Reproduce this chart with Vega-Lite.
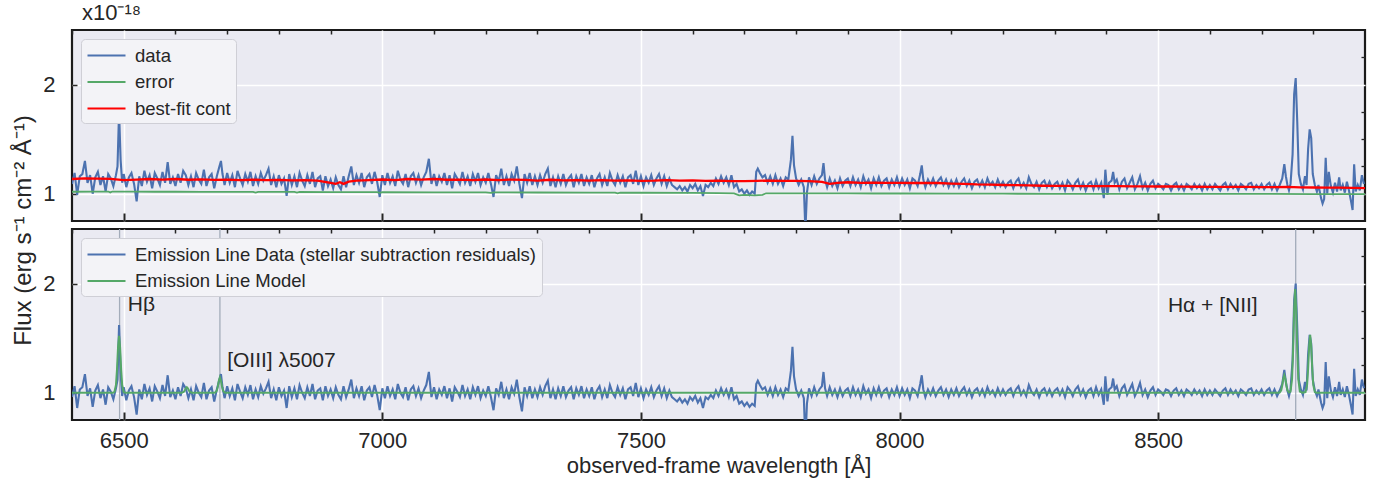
{
"$schema":"https://vega.github.io/schema/vega-lite/v6.json",
"padding":{"left":9,"top":1,"right":10,"bottom":4},
"background":"white",
"bounds":"flush",
"spacing":8,
"resolve":{"scale":{"color":"independent"}},
"config":{
"font":"Liberation Sans",
"view":{"fill":"#EAEAF2","stroke":"#1a1a1a","strokeWidth":2.2},
"axis":{"labelFont":"Liberation Sans","labelFontSize":22,"labelColor":"#262626","titleFont":"Liberation Sans","titleFontSize":22,"titleFontWeight":"normal","titleColor":"#262626","domain":false,"tickColor":"#262626","gridColor":"#FFFFFF","gridWidth":1.5},
"legend":{"labelFont":"Liberation Sans","labelFontSize":18.5,"labelColor":"#262626","labelLimit":700,"orient":"top-left","offset":9,"fillColor":"#F3F3F7","strokeColor":"#CFCFD6","cornerRadius":4,"padding":5,"rowPadding":5.5,"symbolType":"M-1.9,0H1.9","symbolSize":400,"symbolOffset":9,"symbolStrokeWidth":2.2,"labelOffset":17,"title":null}
},
"datasets":{
"spectrum":[
{"wl":6400,"flux":1.09,"resid":0.96},{"wl":6405,"flux":1.19,"resid":1.06},{"wl":6410,"flux":0.99,"resid":0.86},{"wl":6415,"flux":1.16,"resid":1.03},{"wl":6420,"flux":1.18,"resid":1.05},{"wl":6425,"flux":1.30,"resid":1.17},{"wl":6430,"flux":1.10,"resid":0.97},{"wl":6435,"flux":1.17,"resid":1.04},{"wl":6440,"flux":1.00,"resid":0.87},{"wl":6445,"flux":1.15,"resid":1.02},{"wl":6450,"flux":1.20,"resid":1.07},{"wl":6455,"flux":1.08,"resid":0.95},{"wl":6460,"flux":1.16,"resid":1.03},{"wl":6465,"flux":1.02,"resid":0.89},{"wl":6470,"flux":1.18,"resid":1.05},{"wl":6475,"flux":1.14,"resid":1.01},{"wl":6480,"flux":1.07,"resid":0.94},{"wl":6485,"flux":1.17,"resid":1.04},{"wl":6488,"flux":1.25,"resid":1.12},{"wl":6491,"flux":1.75,"resid":1.62},{"wl":6494,"flux":1.31,"resid":1.18},{"wl":6497,"flux":1.10,"resid":0.97},
{"wl":6500,"flux":1.18,"resid":1.05},{"wl":6505,"flux":1.06,"resid":0.93},{"wl":6510,"flux":1.15,"resid":1.02},{"wl":6515,"flux":1.19,"resid":1.06},{"wl":6520,"flux":1.09,"resid":0.96},{"wl":6525,"flux":0.93,"resid":0.80},{"wl":6530,"flux":1.16,"resid":1.03},{"wl":6535,"flux":1.07,"resid":0.94},{"wl":6540,"flux":1.21,"resid":1.08},{"wl":6545,"flux":1.11,"resid":0.98},{"wl":6550,"flux":1.17,"resid":1.04},{"wl":6555,"flux":1.05,"resid":0.92},{"wl":6560,"flux":1.19,"resid":1.06},{"wl":6565,"flux":1.14,"resid":1.01},{"wl":6570,"flux":1.08,"resid":0.95},{"wl":6575,"flux":1.20,"resid":1.07},{"wl":6580,"flux":1.10,"resid":0.97},{"wl":6585,"flux":1.29,"resid":1.16},{"wl":6590,"flux":1.09,"resid":0.96},{"wl":6595,"flux":1.15,"resid":1.02},
{"wl":6600,"flux":1.07,"resid":0.94},{"wl":6605,"flux":1.18,"resid":1.05},{"wl":6610,"flux":1.10,"resid":0.97},{"wl":6615,"flux":1.21,"resid":1.08},{"wl":6620,"flux":1.17,"resid":1.04},{"wl":6625,"flux":1.08,"resid":0.95},{"wl":6630,"flux":1.16,"resid":1.03},{"wl":6635,"flux":1.06,"resid":0.93},{"wl":6640,"flux":1.19,"resid":1.06},{"wl":6645,"flux":1.13,"resid":1.00},{"wl":6650,"flux":1.09,"resid":0.96},{"wl":6655,"flux":1.22,"resid":1.09},{"wl":6660,"flux":1.07,"resid":0.94},{"wl":6665,"flux":1.15,"resid":1.02},{"wl":6670,"flux":1.18,"resid":1.05},{"wl":6675,"flux":1.05,"resid":0.92},{"wl":6680,"flux":1.16,"resid":1.03},{"wl":6685,"flux":1.25,"resid":1.12},{"wl":6688,"flux":1.30,"resid":1.17},{"wl":6691,"flux":1.18,"resid":1.05},{"wl":6695,"flux":1.08,"resid":0.95},
{"wl":6700,"flux":1.19,"resid":1.06},{"wl":6705,"flux":1.10,"resid":0.97},{"wl":6710,"flux":1.17,"resid":1.04},{"wl":6715,"flux":1.06,"resid":0.93},{"wl":6720,"flux":1.21,"resid":1.08},{"wl":6725,"flux":1.14,"resid":1.01},{"wl":6730,"flux":1.08,"resid":0.95},{"wl":6735,"flux":1.18,"resid":1.05},{"wl":6740,"flux":1.11,"resid":0.98},{"wl":6745,"flux":1.20,"resid":1.07},{"wl":6750,"flux":1.07,"resid":0.94},{"wl":6755,"flux":1.16,"resid":1.03},{"wl":6760,"flux":1.09,"resid":0.96},{"wl":6765,"flux":1.19,"resid":1.06},{"wl":6770,"flux":1.12,"resid":0.99},{"wl":6775,"flux":1.17,"resid":1.04},{"wl":6780,"flux":1.23,"resid":1.10},{"wl":6785,"flux":1.08,"resid":0.95},{"wl":6790,"flux":1.16,"resid":1.03},{"wl":6795,"flux":1.06,"resid":0.93},
{"wl":6800,"flux":1.17,"resid":1.05},{"wl":6805,"flux":1.09,"resid":0.97},{"wl":6810,"flux":1.14,"resid":1.02},{"wl":6815,"flux":0.98,"resid":0.86},{"wl":6820,"flux":1.18,"resid":1.06},{"wl":6825,"flux":1.08,"resid":0.96},{"wl":6830,"flux":1.16,"resid":1.04},{"wl":6835,"flux":1.06,"resid":0.94},{"wl":6840,"flux":1.19,"resid":1.07},{"wl":6845,"flux":1.12,"resid":1.00},{"wl":6850,"flux":1.07,"resid":0.95},{"wl":6855,"flux":1.17,"resid":1.05},{"wl":6860,"flux":1.09,"resid":0.97},{"wl":6865,"flux":1.20,"resid":1.08},{"wl":6870,"flux":1.06,"resid":0.94},{"wl":6875,"flux":1.14,"resid":1.02},{"wl":6880,"flux":1.16,"resid":1.04},{"wl":6885,"flux":1.03,"resid":0.93},{"wl":6890,"flux":1.16,"resid":1.06},{"wl":6895,"flux":1.07,"resid":0.97},
{"wl":6900,"flux":1.13,"resid":1.03},{"wl":6905,"flux":1.05,"resid":0.95},{"wl":6910,"flux":1.15,"resid":1.05},{"wl":6915,"flux":1.08,"resid":0.98},{"wl":6920,"flux":1.04,"resid":0.94},{"wl":6925,"flux":1.16,"resid":1.06},{"wl":6930,"flux":1.06,"resid":0.96},{"wl":6935,"flux":1.16,"resid":1.03},{"wl":6940,"flux":1.25,"resid":1.12},{"wl":6945,"flux":1.08,"resid":0.95},{"wl":6950,"flux":1.17,"resid":1.04},{"wl":6955,"flux":1.10,"resid":0.97},{"wl":6960,"flux":1.19,"resid":1.06},{"wl":6965,"flux":1.06,"resid":0.93},{"wl":6970,"flux":1.15,"resid":1.02},{"wl":6975,"flux":1.18,"resid":1.05},{"wl":6980,"flux":1.09,"resid":0.96},{"wl":6985,"flux":1.20,"resid":1.07},{"wl":6990,"flux":1.11,"resid":0.98},{"wl":6995,"flux":0.97,"resid":0.84},
{"wl":7000,"flux":1.17,"resid":1.04},{"wl":7005,"flux":1.08,"resid":0.95},{"wl":7010,"flux":1.19,"resid":1.06},{"wl":7015,"flux":1.10,"resid":0.97},{"wl":7020,"flux":1.16,"resid":1.03},{"wl":7025,"flux":1.07,"resid":0.94},{"wl":7030,"flux":1.21,"resid":1.08},{"wl":7035,"flux":1.13,"resid":1.00},{"wl":7040,"flux":1.09,"resid":0.96},{"wl":7045,"flux":1.18,"resid":1.05},{"wl":7050,"flux":1.06,"resid":0.93},{"wl":7055,"flux":1.16,"resid":1.03},{"wl":7060,"flux":1.19,"resid":1.06},{"wl":7065,"flux":1.10,"resid":0.97},{"wl":7070,"flux":1.17,"resid":1.04},{"wl":7075,"flux":1.08,"resid":0.95},{"wl":7080,"flux":1.15,"resid":1.02},{"wl":7085,"flux":1.20,"resid":1.07},{"wl":7090,"flux":1.32,"resid":1.19},{"wl":7095,"flux":1.09,"resid":0.96},
{"wl":7100,"flux":1.18,"resid":1.05},{"wl":7105,"flux":1.07,"resid":0.94},{"wl":7110,"flux":1.16,"resid":1.03},{"wl":7115,"flux":1.11,"resid":0.98},{"wl":7120,"flux":1.19,"resid":1.06},{"wl":7125,"flux":1.08,"resid":0.95},{"wl":7130,"flux":1.17,"resid":1.04},{"wl":7135,"flux":1.05,"resid":0.92},{"wl":7140,"flux":1.18,"resid":1.05},{"wl":7145,"flux":1.14,"resid":1.01},{"wl":7150,"flux":1.09,"resid":0.96},{"wl":7155,"flux":1.20,"resid":1.07},{"wl":7160,"flux":1.10,"resid":0.97},{"wl":7165,"flux":1.16,"resid":1.03},{"wl":7170,"flux":1.07,"resid":0.94},{"wl":7175,"flux":1.18,"resid":1.05},{"wl":7180,"flux":1.11,"resid":0.98},{"wl":7185,"flux":1.19,"resid":1.06},{"wl":7190,"flux":1.08,"resid":0.95},{"wl":7195,"flux":1.15,"resid":1.02},
{"wl":7200,"flux":1.10,"resid":0.97},{"wl":7205,"flux":1.19,"resid":1.06},{"wl":7210,"flux":1.09,"resid":0.96},{"wl":7215,"flux":0.97,"resid":0.84},{"wl":7220,"flux":1.17,"resid":1.04},{"wl":7225,"flux":1.11,"resid":0.98},{"wl":7230,"flux":1.23,"resid":1.10},{"wl":7235,"flux":1.08,"resid":0.95},{"wl":7240,"flux":1.16,"resid":1.03},{"wl":7245,"flux":1.07,"resid":0.94},{"wl":7250,"flux":1.18,"resid":1.05},{"wl":7255,"flux":1.12,"resid":0.99},{"wl":7260,"flux":1.25,"resid":1.12},{"wl":7265,"flux":1.09,"resid":0.96},{"wl":7270,"flux":0.96,"resid":0.83},{"wl":7275,"flux":1.18,"resid":1.05},{"wl":7280,"flux":1.10,"resid":0.97},{"wl":7285,"flux":1.19,"resid":1.06},{"wl":7290,"flux":1.08,"resid":0.95},{"wl":7295,"flux":1.16,"resid":1.03},
{"wl":7300,"flux":1.08,"resid":0.96},{"wl":7305,"flux":1.17,"resid":1.05},{"wl":7310,"flux":1.10,"resid":0.98},{"wl":7315,"flux":1.18,"resid":1.06},{"wl":7320,"flux":1.23,"resid":1.11},{"wl":7325,"flux":1.07,"resid":0.95},{"wl":7330,"flux":1.15,"resid":1.03},{"wl":7335,"flux":1.06,"resid":0.94},{"wl":7340,"flux":1.16,"resid":1.04},{"wl":7345,"flux":1.09,"resid":0.97},{"wl":7350,"flux":1.18,"resid":1.06},{"wl":7355,"flux":1.08,"resid":0.96},{"wl":7360,"flux":1.14,"resid":1.02},{"wl":7365,"flux":1.17,"resid":1.05},{"wl":7370,"flux":1.06,"resid":0.94},{"wl":7375,"flux":1.16,"resid":1.04},{"wl":7380,"flux":1.10,"resid":0.98},{"wl":7385,"flux":1.18,"resid":1.06},{"wl":7390,"flux":1.07,"resid":0.95},{"wl":7395,"flux":1.15,"resid":1.03},
{"wl":7400,"flux":1.09,"resid":0.97},{"wl":7405,"flux":1.17,"resid":1.05},{"wl":7410,"flux":1.06,"resid":0.94},{"wl":7415,"flux":1.14,"resid":1.02},{"wl":7420,"flux":1.18,"resid":1.06},{"wl":7425,"flux":1.08,"resid":0.96},{"wl":7430,"flux":1.15,"resid":1.03},{"wl":7435,"flux":1.07,"resid":0.95},{"wl":7440,"flux":1.19,"resid":1.07},{"wl":7445,"flux":1.12,"resid":1.00},{"wl":7450,"flux":1.08,"resid":0.96},{"wl":7455,"flux":1.17,"resid":1.05},{"wl":7460,"flux":1.10,"resid":0.98},{"wl":7465,"flux":1.16,"resid":1.04},{"wl":7470,"flux":1.06,"resid":0.94},{"wl":7475,"flux":1.15,"resid":1.03},{"wl":7480,"flux":1.17,"resid":1.05},{"wl":7485,"flux":1.09,"resid":0.97},{"wl":7490,"flux":1.21,"resid":1.09},{"wl":7495,"flux":1.08,"resid":0.96},
{"wl":7500,"flux":1.16,"resid":1.04},{"wl":7505,"flux":1.07,"resid":0.95},{"wl":7510,"flux":1.15,"resid":1.03},{"wl":7515,"flux":1.10,"resid":0.98},{"wl":7520,"flux":1.17,"resid":1.05},{"wl":7525,"flux":1.08,"resid":0.96},{"wl":7530,"flux":1.14,"resid":1.02},{"wl":7535,"flux":1.18,"resid":1.06},{"wl":7540,"flux":1.09,"resid":0.97},{"wl":7545,"flux":1.16,"resid":1.04},{"wl":7550,"flux":1.07,"resid":0.95},{"wl":7555,"flux":1.14,"resid":1.02},{"wl":7560,"flux":1.08,"resid":0.96},{"wl":7565,"flux":1.06,"resid":0.94},{"wl":7570,"flux":1.04,"resid":0.92},{"wl":7575,"flux":1.07,"resid":0.95},{"wl":7580,"flux":1.03,"resid":0.91},{"wl":7585,"flux":1.06,"resid":0.94},{"wl":7590,"flux":1.02,"resid":0.90},{"wl":7595,"flux":1.08,"resid":0.96},
{"wl":7600,"flux":1.05,"resid":0.93},{"wl":7605,"flux":1.09,"resid":0.97},{"wl":7610,"flux":1.03,"resid":0.91},{"wl":7615,"flux":1.07,"resid":0.95},{"wl":7620,"flux":0.98,"resid":0.86},{"wl":7625,"flux":1.08,"resid":0.96},{"wl":7630,"flux":1.06,"resid":0.94},{"wl":7635,"flux":1.10,"resid":0.98},{"wl":7640,"flux":1.07,"resid":0.95},{"wl":7645,"flux":1.14,"resid":1.02},{"wl":7650,"flux":1.09,"resid":0.97},{"wl":7655,"flux":1.16,"resid":1.04},{"wl":7660,"flux":1.10,"resid":0.98},{"wl":7665,"flux":1.15,"resid":1.03},{"wl":7670,"flux":1.08,"resid":0.96},{"wl":7675,"flux":1.17,"resid":1.05},{"wl":7680,"flux":1.06,"resid":0.94},{"wl":7685,"flux":1.09,"resid":0.97},{"wl":7690,"flux":1.02,"resid":0.90},{"wl":7695,"flux":1.04,"resid":0.92},
{"wl":7700,"flux":1.00,"resid":0.88},{"wl":7705,"flux":1.03,"resid":0.91},{"wl":7710,"flux":0.99,"resid":0.87},{"wl":7715,"flux":1.02,"resid":0.90},{"wl":7720,"flux":1.00,"resid":0.88},{"wl":7723,"flux":1.20,"resid":1.08},{"wl":7726,"flux":1.23,"resid":1.11},{"wl":7730,"flux":1.19,"resid":1.07},{"wl":7735,"flux":1.15,"resid":1.03},{"wl":7740,"flux":1.17,"resid":1.05},{"wl":7745,"flux":1.10,"resid":0.98},{"wl":7750,"flux":1.16,"resid":1.04},{"wl":7755,"flux":1.09,"resid":0.97},{"wl":7760,"flux":1.17,"resid":1.05},{"wl":7765,"flux":1.09,"resid":0.98},{"wl":7770,"flux":1.14,"resid":1.03},{"wl":7775,"flux":1.07,"resid":0.96},{"wl":7780,"flux":1.15,"resid":1.04},{"wl":7785,"flux":1.13,"resid":1.02},{"wl":7790,"flux":1.31,"resid":1.20},{"wl":7793,"flux":1.53,"resid":1.42},{"wl":7796,"flux":1.26,"resid":1.15},
{"wl":7800,"flux":1.14,"resid":1.03},{"wl":7805,"flux":1.08,"resid":0.97},{"wl":7810,"flux":1.13,"resid":1.02},{"wl":7815,"flux":1.06,"resid":0.95},{"wl":7818,"flux":0.66,"resid":0.55},{"wl":7821,"flux":1.01,"resid":0.90},{"wl":7825,"flux":1.15,"resid":1.04},{"wl":7830,"flux":1.08,"resid":0.97},{"wl":7835,"flux":1.16,"resid":1.05},{"wl":7840,"flux":1.09,"resid":0.98},{"wl":7845,"flux":1.14,"resid":1.03},{"wl":7850,"flux":1.17,"resid":1.06},{"wl":7853,"flux":1.28,"resid":1.19},{"wl":7856,"flux":1.13,"resid":1.04},{"wl":7860,"flux":1.06,"resid":0.97},{"wl":7865,"flux":1.14,"resid":1.05},{"wl":7870,"flux":1.07,"resid":0.98},{"wl":7875,"flux":1.12,"resid":1.03},{"wl":7880,"flux":1.05,"resid":0.96},{"wl":7885,"flux":1.14,"resid":1.04},{"wl":7890,"flux":1.07,"resid":0.97},{"wl":7895,"flux":1.12,"resid":1.02},
{"wl":7900,"flux":1.14,"resid":1.04},{"wl":7905,"flux":1.07,"resid":0.97},{"wl":7910,"flux":1.15,"resid":1.05},{"wl":7915,"flux":1.08,"resid":0.98},{"wl":7920,"flux":1.13,"resid":1.03},{"wl":7925,"flux":1.06,"resid":0.96},{"wl":7930,"flux":1.16,"resid":1.06},{"wl":7935,"flux":1.09,"resid":0.99},{"wl":7940,"flux":1.13,"resid":1.03},{"wl":7945,"flux":1.05,"resid":0.95},{"wl":7950,"flux":1.14,"resid":1.04},{"wl":7955,"flux":1.08,"resid":0.98},{"wl":7960,"flux":1.15,"resid":1.05},{"wl":7965,"flux":1.07,"resid":0.97},{"wl":7970,"flux":1.12,"resid":1.02},{"wl":7975,"flux":1.14,"resid":1.04},{"wl":7980,"flux":1.06,"resid":0.96},{"wl":7985,"flux":1.13,"resid":1.03},{"wl":7990,"flux":1.08,"resid":0.98},{"wl":7995,"flux":1.15,"resid":1.05},
{"wl":8000,"flux":1.07,"resid":0.97},{"wl":8005,"flux":1.14,"resid":1.04},{"wl":8010,"flux":1.08,"resid":0.98},{"wl":8015,"flux":1.13,"resid":1.03},{"wl":8020,"flux":1.05,"resid":0.95},{"wl":8025,"flux":1.14,"resid":1.04},{"wl":8030,"flux":1.12,"resid":1.02},{"wl":8035,"flux":1.07,"resid":0.97},{"wl":8040,"flux":1.18,"resid":1.08},{"wl":8043,"flux":1.26,"resid":1.16},{"wl":8046,"flux":1.13,"resid":1.03},{"wl":8050,"flux":1.06,"resid":0.96},{"wl":8055,"flux":1.13,"resid":1.03},{"wl":8060,"flux":1.08,"resid":0.98},{"wl":8065,"flux":1.14,"resid":1.04},{"wl":8070,"flux":1.07,"resid":0.97},{"wl":8075,"flux":1.12,"resid":1.02},{"wl":8080,"flux":1.15,"resid":1.05},{"wl":8085,"flux":1.08,"resid":0.98},{"wl":8090,"flux":1.13,"resid":1.03},{"wl":8095,"flux":1.06,"resid":0.96},
{"wl":8100,"flux":1.12,"resid":1.03},{"wl":8105,"flux":1.07,"resid":0.98},{"wl":8110,"flux":1.13,"resid":1.04},{"wl":8115,"flux":1.06,"resid":0.97},{"wl":8120,"flux":1.11,"resid":1.02},{"wl":8125,"flux":1.14,"resid":1.05},{"wl":8130,"flux":1.07,"resid":0.98},{"wl":8135,"flux":1.12,"resid":1.03},{"wl":8140,"flux":1.05,"resid":0.96},{"wl":8145,"flux":1.11,"resid":1.02},{"wl":8150,"flux":1.13,"resid":1.04},{"wl":8155,"flux":1.07,"resid":0.98},{"wl":8160,"flux":1.12,"resid":1.03},{"wl":8165,"flux":1.06,"resid":0.97},{"wl":8170,"flux":1.14,"resid":1.05},{"wl":8175,"flux":1.08,"resid":0.99},{"wl":8180,"flux":1.11,"resid":1.02},{"wl":8185,"flux":1.06,"resid":0.97},{"wl":8190,"flux":1.13,"resid":1.04},{"wl":8195,"flux":1.07,"resid":0.98},
{"wl":8200,"flux":1.11,"resid":1.03},{"wl":8205,"flux":1.06,"resid":0.98},{"wl":8210,"flux":1.10,"resid":1.02},{"wl":8215,"flux":1.12,"resid":1.04},{"wl":8220,"flux":1.05,"resid":0.97},{"wl":8225,"flux":1.11,"resid":1.03},{"wl":8230,"flux":1.14,"resid":1.06},{"wl":8235,"flux":1.06,"resid":0.98},{"wl":8240,"flux":1.10,"resid":1.02},{"wl":8245,"flux":1.05,"resid":0.97},{"wl":8250,"flux":1.15,"resid":1.07},{"wl":8255,"flux":1.09,"resid":1.01},{"wl":8260,"flux":1.06,"resid":0.98},{"wl":8265,"flux":1.11,"resid":1.03},{"wl":8270,"flux":1.04,"resid":0.96},{"wl":8275,"flux":1.10,"resid":1.02},{"wl":8280,"flux":1.12,"resid":1.04},{"wl":8285,"flux":1.06,"resid":0.98},{"wl":8290,"flux":1.11,"resid":1.03},{"wl":8295,"flux":1.05,"resid":0.97},
{"wl":8300,"flux":1.09,"resid":1.02},{"wl":8305,"flux":1.11,"resid":1.04},{"wl":8310,"flux":1.05,"resid":0.98},{"wl":8315,"flux":1.10,"resid":1.03},{"wl":8320,"flux":1.03,"resid":0.96},{"wl":8325,"flux":1.12,"resid":1.05},{"wl":8330,"flux":1.09,"resid":1.02},{"wl":8335,"flux":1.04,"resid":0.97},{"wl":8340,"flux":1.10,"resid":1.03},{"wl":8345,"flux":1.13,"resid":1.06},{"wl":8350,"flux":1.05,"resid":0.98},{"wl":8355,"flux":1.10,"resid":1.03},{"wl":8360,"flux":1.03,"resid":0.96},{"wl":8365,"flux":1.09,"resid":1.02},{"wl":8370,"flux":1.11,"resid":1.04},{"wl":8375,"flux":1.04,"resid":0.97},{"wl":8380,"flux":1.12,"resid":1.05},{"wl":8385,"flux":1.05,"resid":0.98},{"wl":8390,"flux":1.10,"resid":1.03},{"wl":8395,"flux":0.96,"resid":0.89},{"wl":8398,"flux":1.22,"resid":1.15},
{"wl":8402,"flux":0.99,"resid":0.92},{"wl":8405,"flux":1.10,"resid":1.03},{"wl":8410,"flux":1.12,"resid":1.05},{"wl":8413,"flux":1.20,"resid":1.13},{"wl":8416,"flux":1.10,"resid":1.03},{"wl":8420,"flux":1.13,"resid":1.06},{"wl":8425,"flux":1.04,"resid":0.97},{"wl":8430,"flux":1.11,"resid":1.04},{"wl":8435,"flux":1.14,"resid":1.07},{"wl":8440,"flux":1.05,"resid":0.98},{"wl":8445,"flux":1.10,"resid":1.03},{"wl":8450,"flux":1.15,"resid":1.08},{"wl":8455,"flux":1.04,"resid":0.97},{"wl":8460,"flux":1.09,"resid":1.02},{"wl":8465,"flux":1.16,"resid":1.09},{"wl":8470,"flux":1.05,"resid":0.98},{"wl":8475,"flux":1.10,"resid":1.03},{"wl":8480,"flux":1.03,"resid":0.96},{"wl":8485,"flux":1.09,"resid":1.02},{"wl":8490,"flux":1.12,"resid":1.05},{"wl":8495,"flux":1.05,"resid":0.98},
{"wl":8500,"flux":1.09,"resid":1.03},{"wl":8505,"flux":1.07,"resid":1.01},{"wl":8510,"flux":1.04,"resid":0.98},{"wl":8515,"flux":1.09,"resid":1.03},{"wl":8520,"flux":1.08,"resid":1.02},{"wl":8525,"flux":1.03,"resid":0.97},{"wl":8530,"flux":1.08,"resid":1.02},{"wl":8535,"flux":1.10,"resid":1.04},{"wl":8540,"flux":1.04,"resid":0.98},{"wl":8545,"flux":1.08,"resid":1.02},{"wl":8550,"flux":1.03,"resid":0.97},{"wl":8555,"flux":1.09,"resid":1.03},{"wl":8560,"flux":1.07,"resid":1.01},{"wl":8565,"flux":1.04,"resid":0.98},{"wl":8570,"flux":1.09,"resid":1.03},{"wl":8575,"flux":1.05,"resid":0.99},{"wl":8580,"flux":1.08,"resid":1.02},{"wl":8585,"flux":1.03,"resid":0.97},{"wl":8590,"flux":1.09,"resid":1.03},{"wl":8595,"flux":1.04,"resid":0.98},
{"wl":8600,"flux":1.08,"resid":1.02},{"wl":8605,"flux":1.04,"resid":0.98},{"wl":8610,"flux":1.09,"resid":1.03},{"wl":8615,"flux":1.06,"resid":1.00},{"wl":8620,"flux":1.03,"resid":0.97},{"wl":8625,"flux":1.08,"resid":1.02},{"wl":8630,"flux":1.10,"resid":1.04},{"wl":8635,"flux":1.04,"resid":0.98},{"wl":8640,"flux":1.09,"resid":1.03},{"wl":8645,"flux":1.05,"resid":0.99},{"wl":8650,"flux":1.08,"resid":1.02},{"wl":8655,"flux":1.03,"resid":0.97},{"wl":8660,"flux":1.09,"resid":1.03},{"wl":8665,"flux":1.07,"resid":1.01},{"wl":8670,"flux":1.04,"resid":0.98},{"wl":8675,"flux":1.09,"resid":1.03},{"wl":8680,"flux":1.10,"resid":1.04},{"wl":8685,"flux":1.04,"resid":0.98},{"wl":8690,"flux":1.08,"resid":1.02},{"wl":8695,"flux":1.05,"resid":0.99},
{"wl":8700,"flux":1.09,"resid":1.03},{"wl":8705,"flux":1.04,"resid":0.98},{"wl":8710,"flux":1.08,"resid":1.02},{"wl":8715,"flux":1.10,"resid":1.04},{"wl":8720,"flux":1.04,"resid":0.98},{"wl":8725,"flux":1.09,"resid":1.03},{"wl":8730,"flux":1.03,"resid":0.97},{"wl":8735,"flux":1.08,"resid":1.02},{"wl":8740,"flux":1.14,"resid":1.08},{"wl":8744,"flux":1.27,"resid":1.21},{"wl":8747,"flux":1.16,"resid":1.10},{"wl":8750,"flux":1.08,"resid":1.02},{"wl":8753,"flux":1.03,"resid":0.97},{"wl":8756,"flux":1.09,"resid":1.03},{"wl":8760,"flux":1.36,"resid":1.30},{"wl":8763,"flux":1.91,"resid":1.85},{"wl":8766,"flux":2.06,"resid":2.00},{"wl":8769,"flux":1.66,"resid":1.60},{"wl":8772,"flux":1.18,"resid":1.12},{"wl":8776,"flux":1.09,"resid":1.03},{"wl":8780,"flux":1.04,"resid":0.98},{"wl":8784,"flux":1.16,"resid":1.10},{"wl":8787,"flux":1.08,"resid":1.02},{"wl":8790,"flux":1.41,"resid":1.35},{"wl":8793,"flux":1.59,"resid":1.53},{"wl":8796,"flux":1.51,"resid":1.45},{"wl":8799,"flux":1.18,"resid":1.12},
{"wl":8803,"flux":1.08,"resid":1.02},{"wl":8807,"flux":1.02,"resid":0.97},{"wl":8810,"flux":1.08,"resid":1.03},{"wl":8815,"flux":0.96,"resid":0.91},{"wl":8818,"flux":0.91,"resid":0.86},{"wl":8821,"flux":0.95,"resid":0.90},{"wl":8824,"flux":1.33,"resid":1.28},{"wl":8827,"flux":1.00,"resid":0.95},{"wl":8830,"flux":1.20,"resid":1.15},{"wl":8834,"flux":1.07,"resid":1.02},{"wl":8838,"flux":1.01,"resid":0.96},{"wl":8842,"flux":1.10,"resid":1.05},{"wl":8846,"flux":1.02,"resid":0.97},{"wl":8850,"flux":1.15,"resid":1.10},{"wl":8853,"flux":1.03,"resid":0.98},{"wl":8857,"flux":1.08,"resid":1.03},{"wl":8861,"flux":1.01,"resid":0.96},{"wl":8865,"flux":1.11,"resid":1.06},{"wl":8869,"flux":1.03,"resid":0.98},{"wl":8873,"flux":0.93,"resid":0.88},{"wl":8876,"flux":0.85,"resid":0.80},{"wl":8879,"flux":1.27,"resid":1.22},{"wl":8882,"flux":1.02,"resid":0.97},{"wl":8886,"flux":1.08,"resid":1.03},{"wl":8890,"flux":1.03,"resid":0.98},{"wl":8894,"flux":1.17,"resid":1.12},{"wl":8898,"flux":1.09,"resid":1.04}
],
"cont":[
{"wl":6400,"cont":1.135},{"wl":6425,"cont":1.14},{"wl":6450,"cont":1.138},{"wl":6475,"cont":1.136},{"wl":6500,"cont":1.125},{"wl":6525,"cont":1.13},{"wl":6550,"cont":1.135},{"wl":6575,"cont":1.13},{"wl":6600,"cont":1.135},{"wl":6625,"cont":1.128},{"wl":6650,"cont":1.132},{"wl":6675,"cont":1.127},{"wl":6700,"cont":1.13},{"wl":6725,"cont":1.125},{"wl":6750,"cont":1.128},{"wl":6775,"cont":1.125},{"wl":6800,"cont":1.127},{"wl":6825,"cont":1.122},{"wl":6850,"cont":1.125},{"wl":6875,"cont":1.12},{"wl":6900,"cont":1.10},{"wl":6910,"cont":1.09},{"wl":6918,"cont":1.105},{"wl":6925,"cont":1.09},{"wl":6935,"cont":1.11},{"wl":6950,"cont":1.12},{"wl":6975,"cont":1.125},{"wl":7000,"cont":1.13},{"wl":7025,"cont":1.125},{"wl":7050,"cont":1.135},{"wl":7075,"cont":1.13},{"wl":7100,"cont":1.135},{"wl":7125,"cont":1.128},{"wl":7150,"cont":1.13},{"wl":7175,"cont":1.125},{"wl":7200,"cont":1.13},{"wl":7225,"cont":1.125},{"wl":7250,"cont":1.13},{"wl":7275,"cont":1.127},{"wl":7300,"cont":1.12},{"wl":7325,"cont":1.128},{"wl":7350,"cont":1.122},{"wl":7375,"cont":1.125},{"wl":7400,"cont":1.12},{"wl":7425,"cont":1.125},{"wl":7450,"cont":1.12},{"wl":7475,"cont":1.122},{"wl":7500,"cont":1.118},{"wl":7525,"cont":1.12},{"wl":7550,"cont":1.125},{"wl":7575,"cont":1.12},{"wl":7600,"cont":1.122},{"wl":7625,"cont":1.118},{"wl":7650,"cont":1.12},{"wl":7675,"cont":1.115},{"wl":7700,"cont":1.115},{"wl":7725,"cont":1.118},{"wl":7750,"cont":1.12},{"wl":7775,"cont":1.118},{"wl":7800,"cont":1.118},{"wl":7825,"cont":1.115},{"wl":7850,"cont":1.108},{"wl":7865,"cont":1.09},{"wl":7880,"cont":1.10},{"wl":7900,"cont":1.105},{"wl":7925,"cont":1.10},{"wl":7950,"cont":1.102},{"wl":7975,"cont":1.10},{"wl":8000,"cont":1.10},{"wl":8025,"cont":1.098},{"wl":8050,"cont":1.10},{"wl":8075,"cont":1.098},{"wl":8100,"cont":1.093},{"wl":8125,"cont":1.09},{"wl":8150,"cont":1.085},{"wl":8175,"cont":1.083},{"wl":8200,"cont":1.08},{"wl":8225,"cont":1.078},{"wl":8250,"cont":1.076},{"wl":8275,"cont":1.073},{"wl":8300,"cont":1.072},{"wl":8325,"cont":1.072},{"wl":8350,"cont":1.07},{"wl":8375,"cont":1.07},{"wl":8400,"cont":1.07},{"wl":8425,"cont":1.069},{"wl":8450,"cont":1.068},{"wl":8475,"cont":1.067},{"wl":8500,"cont":1.066},{"wl":8525,"cont":1.066},{"wl":8550,"cont":1.065},{"wl":8575,"cont":1.064},{"wl":8600,"cont":1.063},{"wl":8625,"cont":1.063},{"wl":8650,"cont":1.062},{"wl":8675,"cont":1.062},{"wl":8700,"cont":1.06},{"wl":8725,"cont":1.06},{"wl":8750,"cont":1.062},{"wl":8775,"cont":1.058},{"wl":8800,"cont":1.057},{"wl":8825,"cont":1.055},{"wl":8850,"cont":1.055},{"wl":8875,"cont":1.053},{"wl":8900,"cont":1.052}
],
"error":[
{"wl":6400,"err":1.018},{"wl":6440,"err":1.02},{"wl":6470,"err":1.02},{"wl":6474,"err":1.012},{"wl":6478,"err":1.02},{"wl":6520,"err":1.02},{"wl":6560,"err":1.018},{"wl":6600,"err":1.018},{"wl":6650,"err":1.017},{"wl":6700,"err":1.017},{"wl":6750,"err":1.017},{"wl":6755,"err":1.011},{"wl":6760,"err":1.017},{"wl":6800,"err":1.016},{"wl":6830,"err":1.016},{"wl":6835,"err":1.011},{"wl":6840,"err":1.016},{"wl":6900,"err":1.015},{"wl":6950,"err":1.015},{"wl":6990,"err":1.014},{"wl":6995,"err":1.008},{"wl":7000,"err":1.014},{"wl":7100,"err":1.013},{"wl":7200,"err":1.012},{"wl":7210,"err":1.007},{"wl":7215,"err":1.012},{"wl":7300,"err":1.011},{"wl":7400,"err":1.01},{"wl":7450,"err":1.01},{"wl":7455,"err":1.004},{"wl":7460,"err":1.01},{"wl":7500,"err":1.009},{"wl":7600,"err":1.007},{"wl":7650,"err":1.006},{"wl":7680,"err":1.003},{"wl":7690,"err":0.985},{"wl":7700,"err":0.99},{"wl":7720,"err":0.985},{"wl":7735,"err":0.99},{"wl":7742,"err":1.004},{"wl":7800,"err":1.004},{"wl":7850,"err":1.003},{"wl":7900,"err":1.003},{"wl":7950,"err":1.002},{"wl":8000,"err":1.002},{"wl":8100,"err":1.001},{"wl":8200,"err":1.0},{"wl":8300,"err":0.999},{"wl":8400,"err":0.999},{"wl":8500,"err":0.998},{"wl":8600,"err":0.998},{"wl":8700,"err":0.998},{"wl":8800,"err":0.997},{"wl":8900,"err":0.997}
],
"model":[
{"wl":6400,"model":1.0},{"wl":6479,"model":1.0},{"wl":6482,"model":1.006},{"wl":6485,"model":1.07},{"wl":6487,"model":1.213},{"wl":6489,"model":1.416},{"wl":6491,"model":1.52},{"wl":6493,"model":1.416},{"wl":6495,"model":1.213},{"wl":6497,"model":1.07},{"wl":6500,"model":1.006},{"wl":6503,"model":1.0},{"wl":6612,"model":1.0},{"wl":6616,"model":1.007},{"wl":6618,"model":1.02},{"wl":6620,"model":1.04},{"wl":6622,"model":1.05},{"wl":6624,"model":1.04},{"wl":6626,"model":1.02},{"wl":6628,"model":1.007},{"wl":6632,"model":1.0},{"wl":6674,"model":1.0},{"wl":6677,"model":1.002},{"wl":6680,"model":1.019},{"wl":6682,"model":1.057},{"wl":6684,"model":1.112},{"wl":6686,"model":1.14},{"wl":6688,"model":1.112},{"wl":6690,"model":1.057},{"wl":6692,"model":1.019},{"wl":6695,"model":1.002},{"wl":6698,"model":1.0},{"wl":8732,"model":1.0},{"wl":8735,"model":1.002},{"wl":8738,"model":1.022},{"wl":8740,"model":1.066},{"wl":8742,"model":1.128},{"wl":8744,"model":1.16},{"wl":8746,"model":1.128},{"wl":8748,"model":1.066},{"wl":8750,"model":1.022},{"wl":8753,"model":1.002},{"wl":8756,"model":1.01},{"wl":8759,"model":1.128},{"wl":8761,"model":1.39},{"wl":8763,"model":1.76},{"wl":8765,"model":1.95},{"wl":8767,"model":1.76},{"wl":8769,"model":1.39},{"wl":8771,"model":1.128},{"wl":8774,"model":1.01},{"wl":8779,"model":1.0},{"wl":8785,"model":1.006},{"wl":8788,"model":1.072},{"wl":8790,"model":1.217},{"wl":8792,"model":1.424},{"wl":8794,"model":1.53},{"wl":8796,"model":1.424},{"wl":8798,"model":1.217},{"wl":8800,"model":1.072},{"wl":8803,"model":1.006},{"wl":8806,"model":1.0},{"wl":8900,"model":1.0}
],
"lines":[
{"wl":6492,"lx":6508,"ly":1.745,"label":"Hβ"},{"wl":6686,"lx":6700,"ly":1.24,"label":"[OIII] λ5007"},{"wl":8766,"lx":8519,"ly":1.736,"label":"Hα + [NII]"}
]
},
"vconcat":[
{
"width":1293,"height":191,
"title":{"text":"x10⁻¹⁸","anchor":"start","frame":"group","offset":4,"dx":10,"fontSize":22,"fontWeight":"normal","color":"#262626","font":"Liberation Sans"},
"resolve":{"axis":{"x":"independent","y":"independent"}},
"layer":[
{"data":{"name":"spectrum"},"mark":{"type":"line","strokeWidth":2.1,"clip":true},
"encoding":{
"x":{"field":"wl","type":"quantitative","scale":{"domain":[6400,8900],"nice":false,"zero":false},"axis":{"values":[6500,7000,7500,8000,8500],"labels":false,"title":null,"tickSize":-8,"tickWidth":2,"grid":true}},
"y":{"field":"flux","type":"quantitative","scale":{"domain":[0.75,2.5],"nice":false,"zero":false},"axis":{"values":[1,2],"format":"d","tickSize":-5,"tickWidth":1.5,"labelPadding":22,"grid":true,"title":"Flux (erg s⁻¹ cm⁻² Å⁻¹)","titleFontSize":24,"titleX":-49,"titleY":200,"titleBaseline":"middle","titleAlign":"center","titleAngle":-90}},
"color":{"datum":"data","type":"nominal","scale":{"domain":["data","error","best-fit cont"],"range":["#4C72B0","#55A868","#FF0000"]},"legend":{}}}},
{"data":{"name":"error"},"mark":{"type":"line","strokeWidth":1.8,"clip":true},
"encoding":{
"x":{"field":"wl","type":"quantitative","axis":{"values":[6400,6600,6700,6800,6900,7100,7200,7300,7400,7600,7700,7800,7900,8100,8200,8300,8400,8600,8700,8800],"labels":false,"title":null,"tickSize":-4,"tickWidth":1.5,"grid":false}},
"y":{"field":"err","type":"quantitative","axis":{"values":[1.25,1.5,1.75,2.25],"labels":false,"title":null,"tickSize":-4,"tickWidth":1.3,"grid":false}},
"color":{"datum":"error","type":"nominal"}}},
{"data":{"name":"cont"},"mark":{"type":"line","strokeWidth":2.3,"clip":true},
"encoding":{
"x":{"field":"wl","type":"quantitative","axis":null},
"y":{"field":"cont","type":"quantitative","axis":null},
"color":{"datum":"best-fit cont","type":"nominal"}}}
]
},
{
"width":1293,"height":191,
"resolve":{"axis":{"x":"independent","y":"independent"}},
"layer":[
{"data":{"name":"lines"},"mark":{"type":"rule","color":"#A3ACBA","strokeWidth":1.3},
"encoding":{"x":{"field":"wl","type":"quantitative","scale":{"domain":[6400,8900],"nice":false,"zero":false},"axis":null}}},
{"data":{"name":"spectrum"},"mark":{"type":"line","strokeWidth":2.1,"clip":true},
"encoding":{
"x":{"field":"wl","type":"quantitative","axis":{"values":[6500,7000,7500,8000,8500],"format":"d","title":"observed-frame wavelength [Å]","titlePadding":4,"tickSize":-8,"tickWidth":2,"labelPadding":18,"grid":true}},
"y":{"field":"resid","type":"quantitative","scale":{"domain":[0.75,2.5],"nice":false,"zero":false},"axis":{"values":[1,2],"format":"d","tickSize":-5,"tickWidth":1.5,"labelPadding":22,"grid":true,"title":null}},
"color":{"datum":"Emission Line Data (stellar subtraction residuals)","type":"nominal","scale":{"domain":["Emission Line Data (stellar subtraction residuals)","Emission Line Model"],"range":["#4C72B0","#55A868"]},"legend":{}}}},
{"data":{"name":"model"},"mark":{"type":"line","strokeWidth":2,"clip":true},
"encoding":{
"x":{"field":"wl","type":"quantitative","axis":{"values":[6400,6600,6700,6800,6900,7100,7200,7300,7400,7600,7700,7800,7900,8100,8200,8300,8400,8600,8700,8800],"labels":false,"title":null,"tickSize":-4,"tickWidth":1.5,"grid":false}},
"y":{"field":"model","type":"quantitative","axis":{"values":[1.25,1.5,1.75,2.25],"labels":false,"title":null,"tickSize":-4,"tickWidth":1.3,"grid":false}},
"color":{"datum":"Emission Line Model","type":"nominal"}}},
{"data":{"name":"lines"},"mark":{"type":"text","align":"left","baseline":"alphabetic","fontSize":21,"font":"Liberation Sans","color":"#262626"},
"encoding":{
"x":{"field":"lx","type":"quantitative","axis":null},
"y":{"field":"ly","type":"quantitative","axis":null},
"text":{"field":"label"}}}
]
}
]
}
